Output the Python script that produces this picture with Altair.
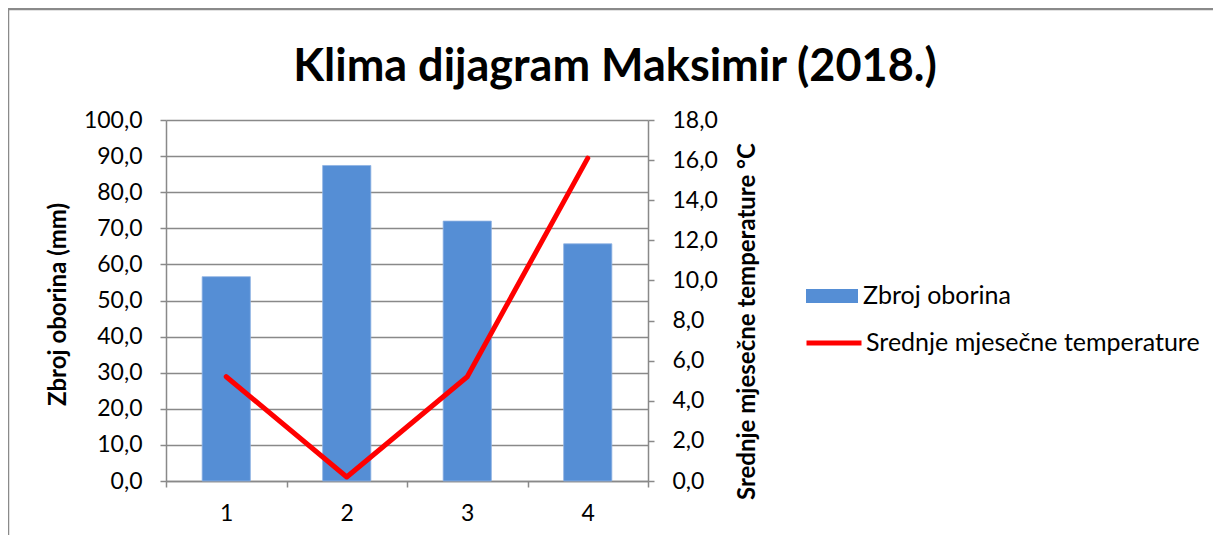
import altair as alt
import pandas as pd

months = ["1", "2", "3", "4"]
precip = [56.6, 87.4, 72.0, 65.7]
temps = [5.2, 0.2, 5.2, 16.1]

bar_name = "Zbroj oborina"
line_name = "Srednje mjesečne temperature"

df = pd.DataFrame({
    "m": months,
    "p": precip,
    "t": temps,
    "bs": [bar_name] * 4,
    "ls": [line_name] * 4,
})

FONT = "Lato"
GRAY = "#898989"
fmt = "replace(format(datum.value, '.1f'), '.', ',')"

xenc = alt.X("m:N", sort=months, title=None,
             scale=alt.Scale(paddingInner=0, paddingOuter=0),
             axis=alt.Axis(labelAngle=0, tickBand="extent", tickSize=6,
                           tickColor=GRAY, domainColor=GRAY, domainWidth=1.5, tickWidth=1.5,
                           labelFont=FONT, labelFontSize=23, labelColor="#000",
                           labelPadding=15, grid=False))

frame = alt.Chart(pd.DataFrame({"a": [0]})).mark_rect(
    fill=None, stroke="#8a8a8a", strokeWidth=2.5
).encode(x=alt.value(-158), x2=alt.value(1300), y=alt.value(-111), y2=alt.value(700))

bars = alt.Chart(df).mark_bar(width={"band": 0.4}, stroke="#8fb2e3", strokeWidth=0.8).encode(
    x=xenc,
    y=alt.Y("p:Q", title="Zbroj oborina (mm)",
            scale=alt.Scale(domain=[0, 100]),
            axis=alt.Axis(values=list(range(0, 101, 10)), labelExpr=fmt,
                          labelFont=FONT, labelFontSize=23, labelColor="#000",
                          labelPadding=18, tickSize=6, tickColor=GRAY, tickWidth=1.5,
                          domainColor=GRAY, domainWidth=1.5,
                          grid=True, gridColor=GRAY, gridWidth=1.5,
                          titleFont=FONT, titleFontSize=24, titleFontWeight="bold",
                          titleColor="#000", titleX=-108, titleY=184,
                          titleAngle=270, titleAlign="center", titleBaseline="middle")),
    fill=alt.Fill("bs:N", scale=alt.Scale(range=["#558ed5"]),
                  legend=alt.Legend(title=None, orient="none", legendX=640, legendY=150,
                                    symbolType="M-1,-0.27L1,-0.27L1,0.27L-1,0.27Z",
                                    symbolSize=2704, symbolStrokeWidth=0, symbolOpacity=1,
                                    labelFont=FONT, labelFontSize=25, labelColor="#000",
                                    labelOffset=5, labelLimit=0, padding=0)),
)

line = alt.Chart(df).mark_line(strokeWidth=5, strokeCap="round", strokeJoin="round").encode(
    x=xenc,
    y=alt.Y("t:Q", title="Srednje mjesečne temperature °C",
            scale=alt.Scale(domain=[0, 18]),
            axis=alt.Axis(orient="right", values=list(range(0, 19, 2)), labelExpr=fmt,
                          labelFont=FONT, labelFontSize=23, labelColor="#000",
                          labelPadding=18, tickSize=6, tickColor=GRAY, tickWidth=1.5,
                          domainColor=GRAY, domainWidth=1.5, grid=False,
                          titleFont=FONT, titleFontSize=24, titleFontWeight="bold",
                          titleColor="#000", titleX=99, titleY=201,
                          titleAngle=270, titleAlign="center", titleBaseline="middle")),
    stroke=alt.Stroke("ls:N", scale=alt.Scale(range=["#ff0000"]),
                      legend=alt.Legend(title=None, orient="none", legendX=638, legendY=193,
                                        symbolType="stroke", symbolSize=3025,
                                        symbolStrokeWidth=5, symbolOpacity=1,
                                        labelFont=FONT, labelFontSize=25, labelColor="#000",
                                        labelOffset=2, labelLimit=0, padding=0)),
)

chart = alt.layer(frame, bars, line).resolve_scale(y="independent").properties(
    width=482, height=361,
    autosize=alt.AutoSizeParams(type="none"),
    padding={"left": 158, "top": 112, "right": 565, "bottom": 54},
    title=alt.TitleParams("Klima dijagram Maksimir (2018.)", font=FONT, fontSize=45,
                          fontWeight="bold", color="#000", anchor="middle",
                          frame="group", dx=208, offset=0, dy=118, baseline="alphabetic"),
).configure_view(stroke=None)

chart.save("out.html", embed_options={"renderer": "svg", "actions": False})
